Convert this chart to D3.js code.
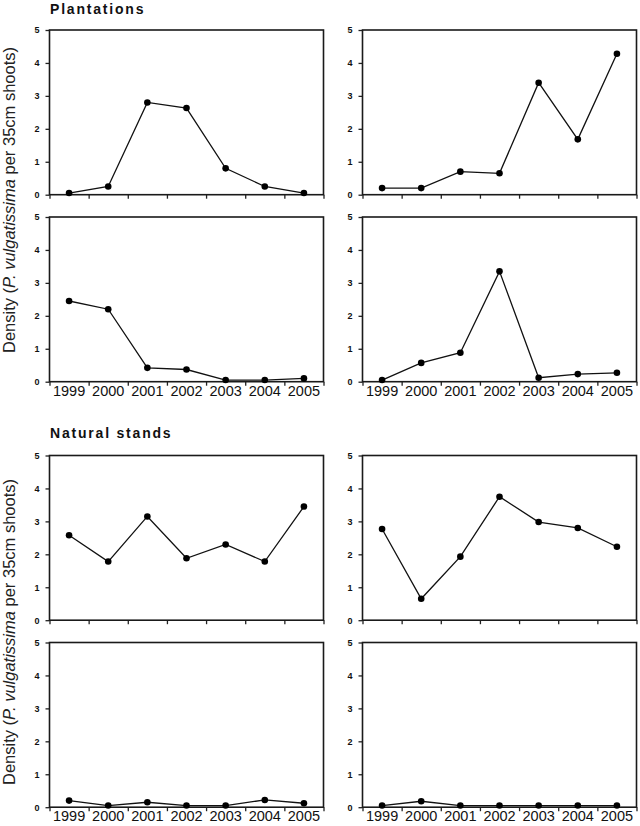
<!DOCTYPE html>
<html>
<head>
<meta charset="utf-8">
<script src="https://cdn.jsdelivr.net/npm/d3@7"></script>
<style>
  body { margin: 0; background: #fff; }
  svg { display: block; font-family: "Liberation Sans", Arial, sans-serif; }
</style>
</head>
<body>
<div id="chart"></div>
<script>
// Data
var years = ["1999", "2000", "2001", "2002", "2003", "2004", "2005"];
var yTicks = [0, 1, 2, 3, 4, 5];

var plantA = [0.05, 0.25, 2.8, 2.63, 0.8, 0.25, 0.05];
var plantB = [0.2, 0.2, 0.7, 0.65, 3.4, 1.68, 4.28];
var plantC = [2.45, 2.2, 0.42, 0.37, 0.05, 0.05, 0.1];
var plantD = [0.05, 0.57, 0.88, 3.35, 0.12, 0.23, 0.27];

var naturalA = [2.58, 1.78, 3.15, 1.88, 2.3, 1.78, 3.45];
var naturalB = [2.77, 0.65, 1.93, 3.75, 2.98, 2.8, 2.23];
var naturalC = [0.2, 0.05, 0.15, 0.05, 0.05, 0.22, 0.12];
var naturalD = [0.05, 0.18, 0.05, 0.05, 0.05, 0.05, 0.05];

// Page size
var svgWidth = 640;
var svgHeight = 826;

var svg = d3.select("#chart")
  .append("svg")
  .attr("width", svgWidth)
  .attr("height", svgHeight);

// Panel geometry
var colLeft = [49.5, 362.5];
var panelWidth = 274;
var panelHeight = 164.7;
var rowTop = [30, 217, 455.5, 642.5];

var panels = [
  { values: plantA, row: 0, col: 0, labels: false },
  { values: plantB, row: 0, col: 1, labels: false },
  { values: plantC, row: 1, col: 0, labels: true },
  { values: plantD, row: 1, col: 1, labels: true },
  { values: naturalA, row: 2, col: 0, labels: false },
  { values: naturalB, row: 2, col: 1, labels: false },
  { values: naturalC, row: 3, col: 0, labels: true },
  { values: naturalD, row: 3, col: 1, labels: true }
];

var xBand = d3.scaleBand().domain(years).range([0, panelWidth]).padding(0);
var xEdge = d3.scaleLinear().domain([0, years.length]).range([0, panelWidth]);
var yScale = d3.scaleLinear().domain([0, 5]).range([panelHeight, 0]);

panels.forEach(function(p) {
  var g = svg.append("g")
    .attr("transform", `translate(${colLeft[p.col]}, ${rowTop[p.row]})`);

  // tick marks at the category edges
  var edgeAxis = g.append("g")
    .attr("transform", `translate(0, ${panelHeight})`)
    .call(d3.axisBottom(xEdge).tickValues(d3.range(0, years.length + 1)).tickSize(4).tickFormat(""));
  edgeAxis.select(".domain").remove();
  edgeAxis.selectAll("line").attr("stroke", "#222").attr("stroke-width", 1.3);

  // year labels only on the lower row of each block
  if (p.labels) {
    var yearAxis = g.append("g")
      .attr("transform", `translate(0, ${panelHeight})`)
      .call(d3.axisBottom(xBand).tickSize(0).tickPadding(4));
    yearAxis.select(".domain").remove();
    yearAxis.selectAll("text")
      .attr("font-size", "14.5px")
      .attr("font-family", "'Liberation Sans', Arial, sans-serif")
      .attr("fill", "#111");
  }

  // y axis
  var leftAxis = g.append("g")
    .call(d3.axisLeft(yScale).tickValues(yTicks).tickSize(4).tickPadding(6).tickFormat(d3.format("d")));
  leftAxis.select(".domain").remove();
  leftAxis.selectAll("line").attr("stroke", "#222").attr("stroke-width", 1.3);
  leftAxis.selectAll("text")
    .attr("font-size", "9px")
    .attr("font-weight", "bold")
    .attr("font-family", "'Liberation Sans', Arial, sans-serif")
    .attr("fill", "#111");

  // frame
  g.append("rect")
    .attr("x", 0)
    .attr("y", 0)
    .attr("width", panelWidth)
    .attr("height", panelHeight)
    .attr("fill", "none")
    .attr("stroke", "#1a1a1a")
    .attr("stroke-width", 1.6);

  var line = d3.line()
    .x(function(d, i) { return xBand(years[i]) + xBand.bandwidth() / 2; })
    .y(function(d) { return yScale(d); });

  g.append("path")
    .datum(p.values)
    .attr("d", line)
    .attr("fill", "none")
    .attr("stroke", "#111")
    .attr("stroke-width", 1.3);

  g.selectAll(".dot")
    .data(p.values)
    .enter()
    .append("circle")
    .attr("class", "dot")
    .attr("cx", function(d, i) { return xBand(years[i]) + xBand.bandwidth() / 2; })
    .attr("cy", function(d) { return yScale(d); })
    .attr("r", 3.3)
    .attr("fill", "#000");
});

// Section titles
var titles = [
  { text: "Plantations", y: 14 },
  { text: "Natural stands", y: 438 }
];
svg.selectAll(".title")
  .data(titles)
  .enter()
  .append("text")
  .attr("class", "title")
  .attr("x", 50)
  .attr("y", function(d) { return d.y; })
  .attr("font-size", "14px")
  .attr("font-weight", "bold")
  .attr("letter-spacing", "1.8px")
  .attr("fill", "#111")
  .text(function(d) { return d.text; });

// Y axis labels, one per block
var labelCenters = [200, 632];
labelCenters.forEach(function(cy) {
  var t = svg.append("text")
    .attr("transform", `translate(15, ${cy}) rotate(-90)`)
    .attr("text-anchor", "middle")
    .attr("font-size", "16.5px")
    .attr("fill", "#222");
  t.append("tspan").text("Density (");
  t.append("tspan").attr("font-style", "italic").text("P. vulgatissima");
  t.append("tspan").text(" per 35cm shoots)");
});
</script>
</body>
</html>
